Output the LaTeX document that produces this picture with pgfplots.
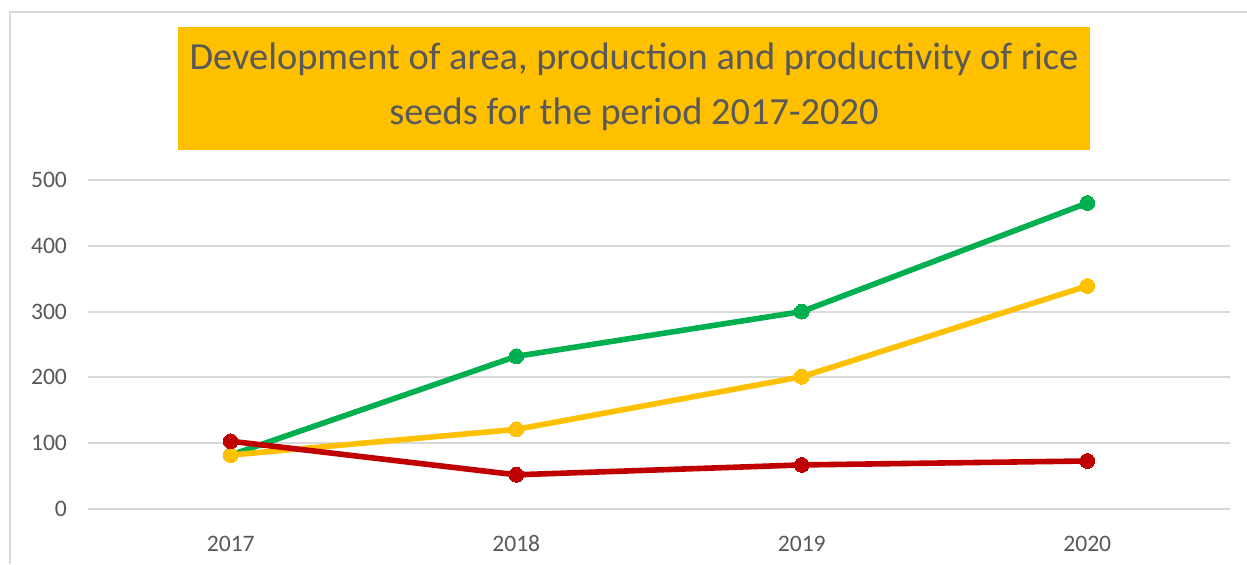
\documentclass[border=0pt]{standalone}
\usepackage{fontspec}
\setmainfont{Carlito}
\usepackage{pgfplots}
\pgfplotsset{compat=1.18}
\definecolor{titlebg}{HTML}{FFC000}
\definecolor{txt}{HTML}{595959}
\definecolor{gridc}{HTML}{D9D9D9}
\definecolor{cgreen}{HTML}{00B050}
\definecolor{cyellow}{HTML}{FFC000}
\definecolor{cred}{HTML}{C00000}
\begin{document}
\begin{tikzpicture}
\useasboundingbox (0,0) rectangle (623.5pt,-282pt);
\fill[white] (0,0) rectangle (623.5pt,-282pt);
\draw[gridc, line width=1pt] (4.75pt,-282pt) -- (4.75pt,-5.75pt) -- (623.5pt,-5.75pt);
\fill[titlebg] (89pt,-13.5pt) rectangle (545pt,-75pt);
\node[anchor=base, inner sep=0pt, text=txt, font=\fontsize{19.2}{22}\selectfont] at (317pt,-34.8pt) {Development of area, production and productivity of rice};
\node[anchor=base, inner sep=0pt, text=txt, font=\fontsize{19.2}{22}\selectfont] at (317pt,-62.3pt) {seeds for the period 2017-2020};
\begin{axis}[
  at={(44pt,-254.5pt)}, anchor=south west,
  scale only axis, width=571pt, height=164.5pt,
  xmin=2016.5, xmax=2020.5, ymin=0, ymax=500,
  axis line style={draw=none},
  major tick length=0pt,
  xtick={2017,2018,2019,2020},
  xticklabels={2017,2018,2019,2020},
  ytick={0,100,200,300,400,500},
  ymajorgrids,
  grid style={gridc, line width=1pt},
  tick label style={font=\fontsize{11.8}{13}\selectfont, text=txt},
  /pgf/number format/assume math mode=true,
  yticklabel style={anchor=east, xshift=-7pt},
  xticklabel style={anchor=base, inner sep=0pt, yshift=-21pt},
  clip=false,
  every axis plot/.append style={line width=2.8pt, mark=*, mark size=3.7pt},
]
\addplot[color=cgreen, mark options={fill=cgreen, draw=cgreen, line width=0pt}] coordinates {(2017,82) (2018,232) (2019,300) (2020,465)};
\addplot[color=cyellow, mark options={fill=cyellow, draw=cyellow, line width=0pt}] coordinates {(2017,82) (2018,121) (2019,201) (2020,339)};
\addplot[color=cred, mark options={fill=cred, draw=cred, line width=0pt}] coordinates {(2017,103) (2018,52) (2019,67) (2020,73)};
\end{axis}
\end{tikzpicture}
\end{document}
